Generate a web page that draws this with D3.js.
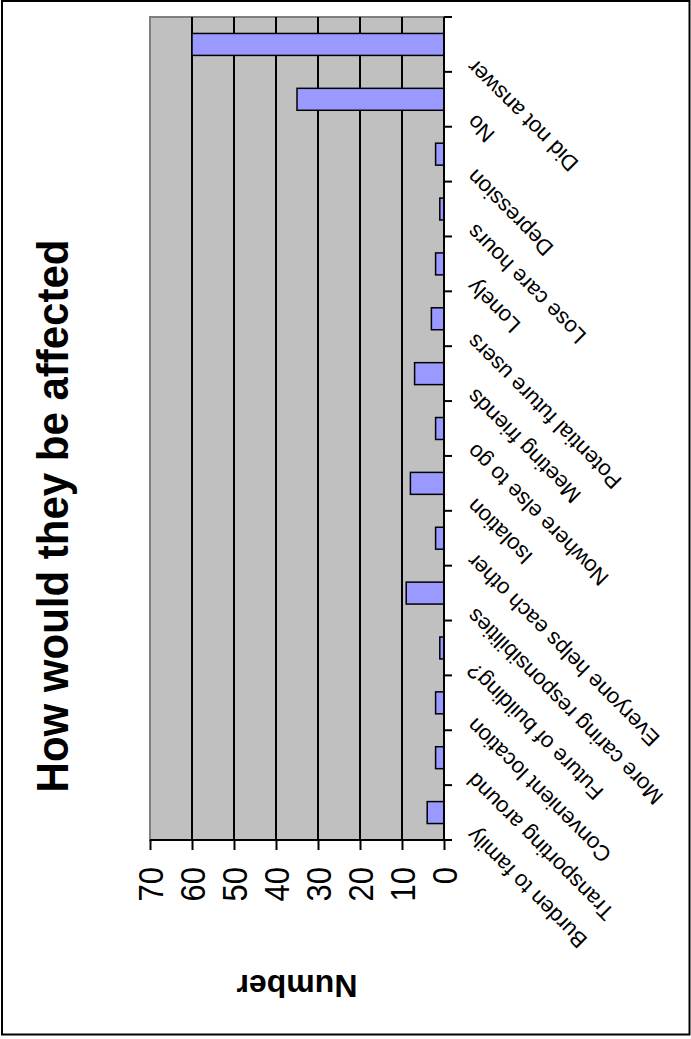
<!DOCTYPE html>
<html>
<head>
<meta charset="utf-8">
<script src="https://cdn.jsdelivr.net/npm/d3@7"></script>
<style>
	html, body { margin: 0; padding: 0; background: #fff; }
	svg { display: block; }
</style>
</head>
<body>
<div id="chart"></div>
<script>
'use strict';

// Excel-style column chart, printed sideways: it is laid out landscape
// and then turned a quarter-turn anticlockwise onto the portrait page.

const categories = [
	'Burden to family',
	'Transporting around',
	'Convenient location',
	'Future of building?',
	'More caring responsibilities',
	'Everyone helps each other',
	'Isolation',
	'Nowhere else to go',
	'Meeting friends',
	'Potential future users',
	'Lonely',
	'Lose care hours',
	'Depression',
	'No',
	'Did not answer'
];
const counts = [4, 2, 2, 1, 9, 2, 8, 2, 7, 3, 2, 1, 2, 35, 60];
const valueTicks = [0, 10, 20, 30, 40, 50, 60, 70];
const chartTitle = 'How would they be affected';
const valueTitle = 'Number';

const PAGE = { w: 691, h: 1039 };
// landscape frame before the turn: width runs up the page, height across it
const FRAME = { w: 1039, h: 691 };
const PLOT = { left: 199, right: 1022, top: 150, bottom: 444 };
const TITLE_POS = { x: 523, y: 68 };

const PALETTE = {
	plotBg: '#c0c0c0',
	plotEdge: '#808080',
	bar: '#9999ff',
	ink: '#000'
};

const FONT = '"Liberation Sans", Arial, Helvetica, sans-serif';

const svg = d3.select('#chart').append('svg')
	.attr('width', PAGE.w)
	.attr('height', PAGE.h);

svg.append('rect')
	.attr('width', PAGE.w).attr('height', PAGE.h)
	.attr('fill', '#fff');

// outer chart border, drawn straight onto the page
svg.append('rect')
	.attr('x', 2).attr('y', 1)
	.attr('width', 687.5).attr('height', 1033.5)
	.attr('fill', 'none')
	.attr('stroke', PALETTE.ink)
	.attr('stroke-width', 2);

const frame = svg.append('g')
	.attr('transform', `translate(0,${FRAME.w}) rotate(-90)`)
	.style('font-family', FONT);

const x = d3.scaleBand()
	.domain(categories)
	.range([PLOT.left, PLOT.right])
	.paddingInner(0.6)
	.paddingOuter(0.3);

const y = d3.scaleLinear()
	.domain([0, 70])
	.range([PLOT.bottom, PLOT.top]);

// ----------------------- plot area ------------------------------------

frame.append('rect')
	.attr('x', PLOT.left).attr('y', PLOT.top)
	.attr('width', PLOT.right - PLOT.left)
	.attr('height', PLOT.bottom - PLOT.top)
	.attr('fill', PALETTE.plotBg)
	.attr('stroke', PALETTE.plotEdge)
	.attr('stroke-width', 2);

frame.append('g')
	.selectAll('line')
	.data(valueTicks.filter((t) => t > 0 && t < 70))
	.join('line')
	.attr('x1', PLOT.left).attr('x2', PLOT.right)
	.attr('y1', (d) => y(d)).attr('y2', (d) => y(d))
	.attr('stroke', PALETTE.ink)
	.attr('stroke-width', 2);

frame.append('g')
	.selectAll('rect')
	.data(categories)
	.join('rect')
	.attr('x', (d) => x(d))
	.attr('width', x.bandwidth())
	.attr('y', (d, i) => y(counts[i]))
	.attr('height', (d, i) => y(0) - y(counts[i]))
	.attr('fill', PALETTE.bar)
	.attr('stroke', PALETTE.ink)
	.attr('stroke-width', 1.5);

// ----------------------- axes -----------------------------------------

// value axis (left edge before the turn)
const valueAxis = d3.axisLeft(y)
	.tickValues(valueTicks)
	.tickSize(10)
	.tickPadding(0)
	.tickFormat('');

const va = frame.append('g')
	.attr('transform', `translate(${PLOT.left},0)`)
	.call(valueAxis);
va.select('.domain').remove();
va.selectAll('.tick line').attr('stroke', PALETTE.ink).attr('stroke-width', 2);

frame.append('line')
	.attr('x1', PLOT.left).attr('x2', PLOT.left)
	.attr('y1', PLOT.top).attr('y2', PLOT.bottom)
	.attr('stroke', PALETTE.ink)
	.attr('stroke-width', 2);

frame.append('g')
	.selectAll('text')
	.data(valueTicks)
	.join('text')
	.attr('transform', (d) => `translate(${PLOT.left - 27},${y(d)}) scale(1,1.13)`)
	.attr('text-anchor', 'end')
	.attr('dy', '0.36em')
	.attr('font-size', 31)
	.attr('fill', PALETTE.ink)
	.text((d) => d);

// category axis (bottom edge before the turn), ticks between bands
const step = x.step();
const boundaries = d3.range(categories.length + 1)
	.map((i) => PLOT.left + i * step);

frame.append('g')
	.selectAll('line')
	.data(boundaries)
	.join('line')
	.attr('x1', (d) => d).attr('x2', (d) => d)
	.attr('y1', PLOT.bottom).attr('y2', PLOT.bottom + 8)
	.attr('stroke', PALETTE.ink)
	.attr('stroke-width', 2);

frame.append('line')
	.attr('x1', PLOT.left).attr('x2', PLOT.right)
	.attr('y1', PLOT.bottom).attr('y2', PLOT.bottom)
	.attr('stroke', PALETTE.ink)
	.attr('stroke-width', 2);

frame.append('g')
	.selectAll('text')
	.data(categories)
	.join('text')
	.attr('transform', (d) => {
		const cx = x(d) + x.bandwidth() / 2;
		return `translate(${cx - 14},${PLOT.bottom + 32}) rotate(-45)`;
	})
	.attr('text-anchor', 'end')
	.attr('font-size', 22)
	.attr('fill', PALETTE.ink)
	.text((d) => d);

// ----------------------- titles ---------------------------------------

frame.append('text')
	.attr('transform', `translate(${TITLE_POS.x},${TITLE_POS.y}) scale(1,1.06)`)
	.attr('text-anchor', 'middle')
	.attr('font-size', 42)
	.attr('font-weight', 'bold')
	.attr('fill', PALETTE.ink)
	.text(chartTitle);

frame.append('text')
	.attr('transform', `translate(64,${(PLOT.top + PLOT.bottom) / 2}) rotate(-90)`)
	.attr('text-anchor', 'middle')
	.attr('font-size', 32)
	.attr('font-weight', 'bold')
	.attr('fill', PALETTE.ink)
	.text(valueTitle);
</script>
</body>
</html>
